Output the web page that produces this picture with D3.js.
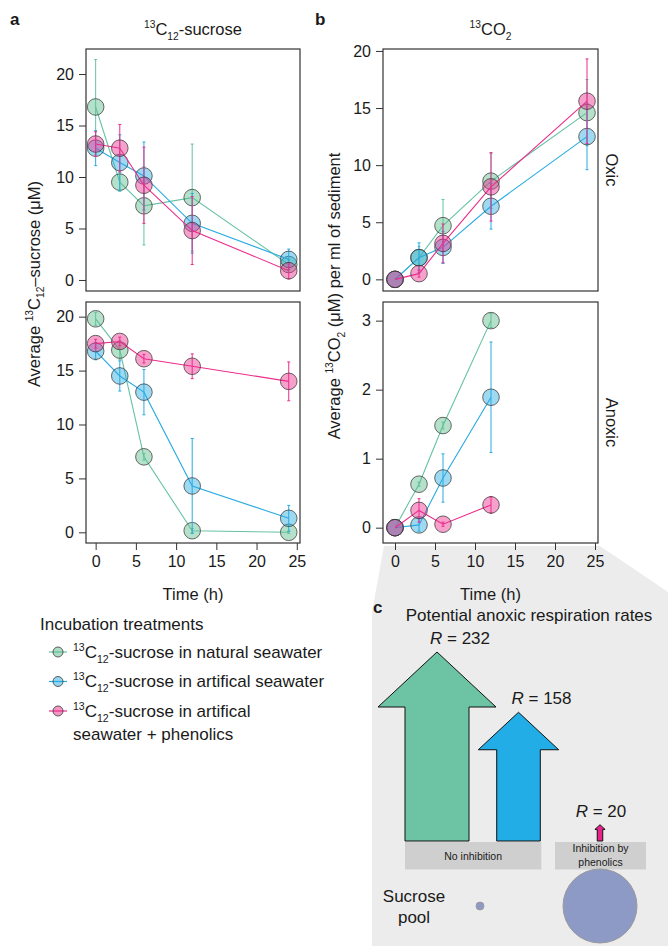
<!DOCTYPE html>
<html>
<head>
<meta charset="utf-8">
<script src="https://cdn.jsdelivr.net/npm/d3@7"></script>
<style>
  body { margin: 0; background: #fff; }
  svg { display: block; }
  text { font-family: "Liberation Sans", Arial, Helvetica, sans-serif; fill: #1a1a1a; }
</style>
</head>
<body>
<div id="wrapper"></div>
<script>

// ---- data ----
const times = [0, 3, 6, 12, 24]
const timesAnoxicCO2 = [0, 3, 6, 12]
const treatments = ["natural", "artificial", "phenolics"]
const xTicks = [0, 5, 10, 15, 20, 25]

// rows: natural seawater, artificial seawater, artificial seawater + phenolics
const sucroseOxicMean = [
    [16.8, 9.5, 7.2, 8.0, 1.5],
    [12.8, 11.4, 10.1, 5.5, 2.0],
    [13.2, 12.8, 9.2, 4.8, 0.9]
]
const sucroseOxicErr = [
    [4.6, 0.9, 3.8, 5.2, 0.5],
    [1.7, 2.7, 3.3, 2.9, 1.0],
    [1.2, 2.3, 3.7, 3.3, 0.8]
]
const sucroseAnoxicMean = [
    [19.8, 16.9, 7.0, 0.15, 0],
    [16.8, 14.5, 13.0, 4.3, 1.3],
    [17.5, 17.7, 16.1, 15.4, 14.0]
]
const sucroseAnoxicErr = [
    [0.6, 0.9, 0.3, 0.2, 0.1],
    [0.8, 1.4, 2.1, 4.4, 1.2],
    [0.4, 0.4, 0.4, 1.15, 1.8]
]
const co2OxicMean = [
    [0, 1.9, 4.7, 8.6, 14.6],
    [0, 1.9, 2.8, 6.4, 12.5],
    [0, 0.5, 3.15, 8.1, 15.6]
]
const co2OxicErr = [
    [0, 1.0, 2.3, 2.4, 2.9],
    [0, 1.3, 1.4, 2.0, 2.9],
    [0, 0.3, 1.7, 3.0, 3.7]
]
const co2AnoxicMean = [
    [0, 0.63, 1.48, 3.0],
    [0, 0.04, 0.72, 1.89],
    [0, 0.25, 0.05, 0.33]
]
const co2AnoxicErr = [
    [0, 0.03, 0.05, 0.1],
    [0, 0.09, 0.35, 0.8],
    [0, 0.17, 0.03, 0.12]
]

const legendLabels = ["-sucrose in natural seawater", "-sucrose in artifical seawater", "-sucrose in artifical"]

// panel c
const respirationRates = [232, 158, 20]
const inhibitionGroups = ["No inhibition", "Inhibition by phenolics"]
const sucrosePool = [0.16, 14]

function draw() {

    // 1. dimensions
    let dimensions = {
        width: 668,
        height: 946,
        colA: {left: 86, right: 300},
        colB: {left: 383, right: 598},
        rowTop: {top: 49, bottom: 291},
        rowBottom: {top: 302, bottom: 543},
        pointRadius: 8.3,
        fontSize: 16.5,
    }

    const lineColor = d3.scaleOrdinal().domain(treatments).range(["#66c2a5", "#29abe2", "#ec2d8c"])
    const fillColor = d3.scaleOrdinal().domain(treatments).range(["#5cbd8c", "#29abe2", "#ec2d8c"])
    const arrowColor = d3.scaleOrdinal().domain(treatments).range(["#6cc4a5", "#23ade6", "#e8228b"])

    const svg = d3.select("#wrapper")
        .append("svg")
        .attr("width", dimensions.width)
        .attr("height", dimensions.height)

    // text with super/subscripts
    function rich(sel, parts, size) {
        let shift = 0
        parts.forEach(p => {
            const target = p.k === "sup" ? -size * 0.4 : p.k === "sub" ? size * 0.3 : 0
            sel.append("tspan")
                .attr("dy", target - shift)
                .attr("font-size", p.k ? size * 0.62 : size)
                .text(p.t)
            shift = target
        })
    }

    // panel c background (drawn first so it sits behind)
    const cx0 = dimensions.colB.left, cx1 = dimensions.colB.right, cy0 = dimensions.rowBottom.bottom + 3
    svg.append("polygon")
        .attr("points", [[cx0 + 1, cy0], [372, 612], [372, 946], [668, 946], [668, 592], [cx1 + 2, cy0]].join(" "))
        .attr("fill", "#ececec")

    // 2. panels
    const panels = [
        {col: "colA", row: "rowTop", xDomain: [-1.2, 25.4], yDomain: [-1.07, 22.43], yTicks: [0, 5, 10, 15, 20],
         t: times, mean: sucroseOxicMean, err: sucroseOxicErr, showX: false},
        {col: "colA", row: "rowBottom", xDomain: [-1.2, 25.4], yDomain: [-0.99, 21.36], yTicks: [0, 5, 10, 15, 20],
         t: times, mean: sucroseAnoxicMean, err: sucroseAnoxicErr, showX: true},
        {col: "colB", row: "rowTop", xDomain: [-1.5, 25.375], yDomain: [-1.02, 20.17], yTicks: [0, 5, 10, 15, 20],
         t: times, mean: co2OxicMean, err: co2OxicErr, showX: false, strip: "Oxic"},
        {col: "colB", row: "rowBottom", xDomain: [-1.5, 25.375], yDomain: [-0.222, 3.27], yTicks: [0, 1, 2, 3],
         t: timesAnoxicCO2, mean: co2AnoxicMean, err: co2AnoxicErr, showX: true, strip: "Anoxic"},
    ]

    panels.forEach(p => {
        const col = dimensions[p.col], row = dimensions[p.row]
        const x = d3.scaleLinear().domain(p.xDomain).range([col.left, col.right])
        const y = d3.scaleLinear().domain(p.yDomain).range([row.bottom, row.top])
        const g = svg.append("g")

        g.append("rect")
            .attr("x", col.left).attr("y", row.top)
            .attr("width", col.right - col.left).attr("height", row.bottom - row.top)
            .attr("fill", "white")

        const yAxis = g.append("g")
            .attr("transform", `translate(${col.left},0)`)
            .call(d3.axisLeft(y).tickValues(p.yTicks).tickFormat(d3.format("d")).tickSize(7).tickPadding(5))
        yAxis.select(".domain").remove()
        yAxis.selectAll("text").attr("font-size", 16).attr("font-family", null).attr("fill", "#1a1a1a")
        yAxis.selectAll("line").attr("stroke", "#333")

        if (p.showX) {
            const xAxis = g.append("g")
                .attr("transform", `translate(0,${row.bottom})`)
                .call(d3.axisBottom(x).tickValues(xTicks).tickFormat(d3.format("d")).tickSize(7).tickPadding(6))
            xAxis.select(".domain").remove()
            xAxis.selectAll("text").attr("font-size", 16).attr("font-family", null).attr("fill", "#1a1a1a")
            xAxis.selectAll("line").attr("stroke", "#333")
        }

        const line = d3.line().x((d, i) => x(p.t[i])).y(d => y(d))

        treatments.forEach((tr, k) => {
            const series = g.append("g")
            series.append("path")
                .datum(p.mean[k])
                .attr("d", line)
                .attr("fill", "none")
                .attr("stroke", lineColor(tr))
                .attr("stroke-width", 1.1)

            const bars = p.mean[k].map((m, i) => ({t: p.t[i], lo: m - p.err[k][i], hi: m + p.err[k][i]}))
                .filter(d => d.hi > d.lo)
            series.selectAll(".err")
                .data(bars)
                .join("line")
                .attr("x1", d => x(d.t)).attr("x2", d => x(d.t))
                .attr("y1", d => y(Math.max(d.lo, p.yDomain[0]))).attr("y2", d => y(d.hi))
                .attr("stroke", lineColor(tr))
                .attr("stroke-width", 1)
            series.selectAll(".cap")
                .data(bars.flatMap(d => [{t: d.t, v: d.hi}, {t: d.t, v: Math.max(d.lo, p.yDomain[0])}]))
                .join("line")
                .attr("x1", d => x(d.t) - 1.5).attr("x2", d => x(d.t) + 1.5)
                .attr("y1", d => y(d.v)).attr("y2", d => y(d.v))
                .attr("stroke", lineColor(tr))
                .attr("stroke-width", 1)

            series.selectAll("circle")
                .data(p.mean[k])
                .join("circle")
                .attr("cx", (d, i) => x(p.t[i]))
                .attr("cy", d => y(d))
                .attr("r", dimensions.pointRadius)
                .attr("fill", fillColor(tr))
                .attr("fill-opacity", 0.45)
                .attr("stroke", "#3a3a3a")
                .attr("stroke-opacity", 0.75)
                .attr("stroke-width", 1)
        })

        g.append("rect")
            .attr("x", col.left).attr("y", row.top)
            .attr("width", col.right - col.left).attr("height", row.bottom - row.top)
            .attr("fill", "none")
            .attr("stroke", "#333")
            .attr("stroke-width", 1.2)

        if (p.strip) {
            g.append("text")
                .attr("transform", `translate(${col.right + 8},${(row.top + row.bottom) / 2}) rotate(90)`)
                .attr("text-anchor", "middle")
                .attr("font-size", dimensions.fontSize)
                .text(p.strip)
        }
    })

    // titles, axis labels, panel letters
    const fs = dimensions.fontSize
    const midA = (dimensions.colA.left + dimensions.colA.right) / 2
    const midB = (dimensions.colB.left + dimensions.colB.right) / 2

    rich(svg.append("text").attr("x", midA).attr("y", 35).attr("text-anchor", "middle"),
        [{t: "13", k: "sup"}, {t: "C"}, {t: "12", k: "sub"}, {t: "-sucrose"}], fs)
    rich(svg.append("text").attr("x", midB).attr("y", 35).attr("text-anchor", "middle"),
        [{t: "13", k: "sup"}, {t: "CO"}, {t: "2", k: "sub"}], fs)

    rich(svg.append("text").attr("transform", "translate(39.5,284) rotate(-90)").attr("text-anchor", "middle"),
        [{t: "Average "}, {t: "13", k: "sup"}, {t: "C"}, {t: "12", k: "sub"}, {t: "\u2013sucrose (\u03bcM)"}], fs)
    rich(svg.append("text").attr("transform", "translate(340,296) rotate(-90)").attr("text-anchor", "middle"),
        [{t: "Average "}, {t: "13", k: "sup"}, {t: "CO"}, {t: "2", k: "sub"}, {t: " (\u03bcM) per ml of sediment"}], fs)

    svg.append("text").attr("x", midA).attr("y", 600).attr("text-anchor", "middle").attr("font-size", fs).text("Time (h)")
    svg.append("text").attr("x", midB).attr("y", 600).attr("text-anchor", "middle").attr("font-size", fs).text("Time (h)")

    svg.selectAll(".panelLetter")
        .data([["a", 10, 25], ["b", 315, 25], ["c", 373, 613]])
        .join("text")
        .attr("x", d => d[1]).attr("y", d => d[2])
        .attr("font-size", 17)
        .attr("font-weight", "bold")
        .attr("fill", "#111")
        .text(d => d[0])

    // legend
    const legend = svg.append("g")
    legend.append("text").attr("x", 40).attr("y", 630).attr("font-size", 17).text("Incubation treatments")
    const legendY = d3.scalePoint().domain(treatments).range([652, 711])
    treatments.forEach((tr, k) => {
        const ly = legendY(tr)
        legend.append("line")
            .attr("x1", 49).attr("x2", 67).attr("y1", ly).attr("y2", ly)
            .attr("stroke", lineColor(tr)).attr("stroke-width", 1.2)
        legend.append("circle")
            .attr("cx", 58).attr("cy", ly).attr("r", 5)
            .attr("fill", fillColor(tr)).attr("fill-opacity", 0.5)
            .attr("stroke", "#3a3a3a").attr("stroke-opacity", 0.8)
        rich(legend.append("text").attr("x", 73).attr("y", ly + 5.5),
            [{t: "13", k: "sup"}, {t: "C"}, {t: "12", k: "sub"}, {t: legendLabels[k]}], 17)
    })
    legend.append("text").attr("x", 73).attr("y", legendY("phenolics") + 29).attr("font-size", 17).text("seawater + phenolics")

    // 3. panel c
    const base = 841
    const xArrow = d3.scalePoint().domain(treatments).range([437, 600])
    const rateHeight = d3.scaleLinear().domain([0, 232]).range([0, 189])
    const shaftWidth = d3.scaleLinear().domain([0, 232]).range([0, 64])
    const wingWidth = d3.scaleLinear().domain([0, 232]).range([0, 118])
    const headHeight = d3.scaleLinear().domain([0, 232]).range([0, 55])

    svg.append("text").attr("x", 529).attr("y", 621).attr("text-anchor", "middle").attr("font-size", 17)
        .text("Potential anoxic respiration rates")

    const arrows = treatments.map((tr, i) => {
        const R = respirationRates[i], cx = xArrow(tr)
        const tip = base - rateHeight(R), neck = tip + headHeight(R)
        const sw = shaftWidth(R) / 2, ww = wingWidth(R) / 2
        return {tr, R, cx, tip,
            pts: [[cx - sw, base], [cx - sw, neck], [cx - ww, neck], [cx, tip], [cx + ww, neck], [cx + sw, neck], [cx + sw, base]]}
    })

    svg.selectAll(".arrow")
        .data(arrows)
        .join("polygon")
        .attr("points", d => d.pts.join(" "))
        .attr("fill", d => arrowColor(d.tr))
        .attr("stroke", "#111")
        .attr("stroke-width", 1)
        .attr("stroke-linejoin", "miter")

    arrows.forEach((d, i) => {
        const t = svg.append("text")
            .attr("x", i < 2 ? d.cx - 7 : d.cx + 1)
            .attr("y", d.tip - 8)
            .attr("text-anchor", i < 2 ? "start" : "middle")
            .attr("font-size", 17)
        t.append("tspan").attr("font-style", "italic").text("R")
        t.append("tspan").text(` = ${d.R}`)
    })

    // inhibition boxes
    const sw0 = shaftWidth(respirationRates[0]) / 2, sw1 = shaftWidth(respirationRates[1]) / 2
    const boxes = [
        {x0: xArrow("natural") - sw0, x1: xArrow("artificial") + sw1 + 1, lines: ["No inhibition"]},
        {x0: xArrow("phenolics") - 45, x1: xArrow("phenolics") + 46, lines: ["Inhibition by", "phenolics"]},
    ]
    boxes.forEach(b => {
        svg.append("rect")
            .attr("x", b.x0).attr("y", base + 1)
            .attr("width", b.x1 - b.x0).attr("height", 27.5)
            .attr("fill", "#cfcfcf")
        b.lines.forEach((l, j) => {
            svg.append("text")
                .attr("x", (b.x0 + b.x1) / 2)
                .attr("y", b.lines.length === 1 ? base + 19 : base + 11 + j * 13.5)
                .attr("text-anchor", "middle")
                .attr("font-size", 10.5)
                .attr("fill", "#222")
                .text(l)
        })
    })

    // sucrose pool
    const poolX = d3.scalePoint().domain(inhibitionGroups).range([480, 600])
    const poolR = d3.scaleSqrt().domain([0, 14]).range([0, 37])
    svg.selectAll(".pool")
        .data(sucrosePool)
        .join("circle")
        .attr("cx", (d, i) => poolX(inhibitionGroups[i]))
        .attr("cy", 906)
        .attr("r", d => poolR(d))
        .attr("fill", "#8e9ac6")
        .attr("stroke", "#9a9a9a")
        .attr("stroke-width", 1)

    svg.append("text").attr("x", 414).attr("y", 901.5).attr("text-anchor", "middle").attr("font-size", 17).text("Sucrose")
    svg.append("text").attr("x", 414).attr("y", 923).attr("text-anchor", "middle").attr("font-size", 17).text("pool")
}

draw()
</script>
</body>
</html>
